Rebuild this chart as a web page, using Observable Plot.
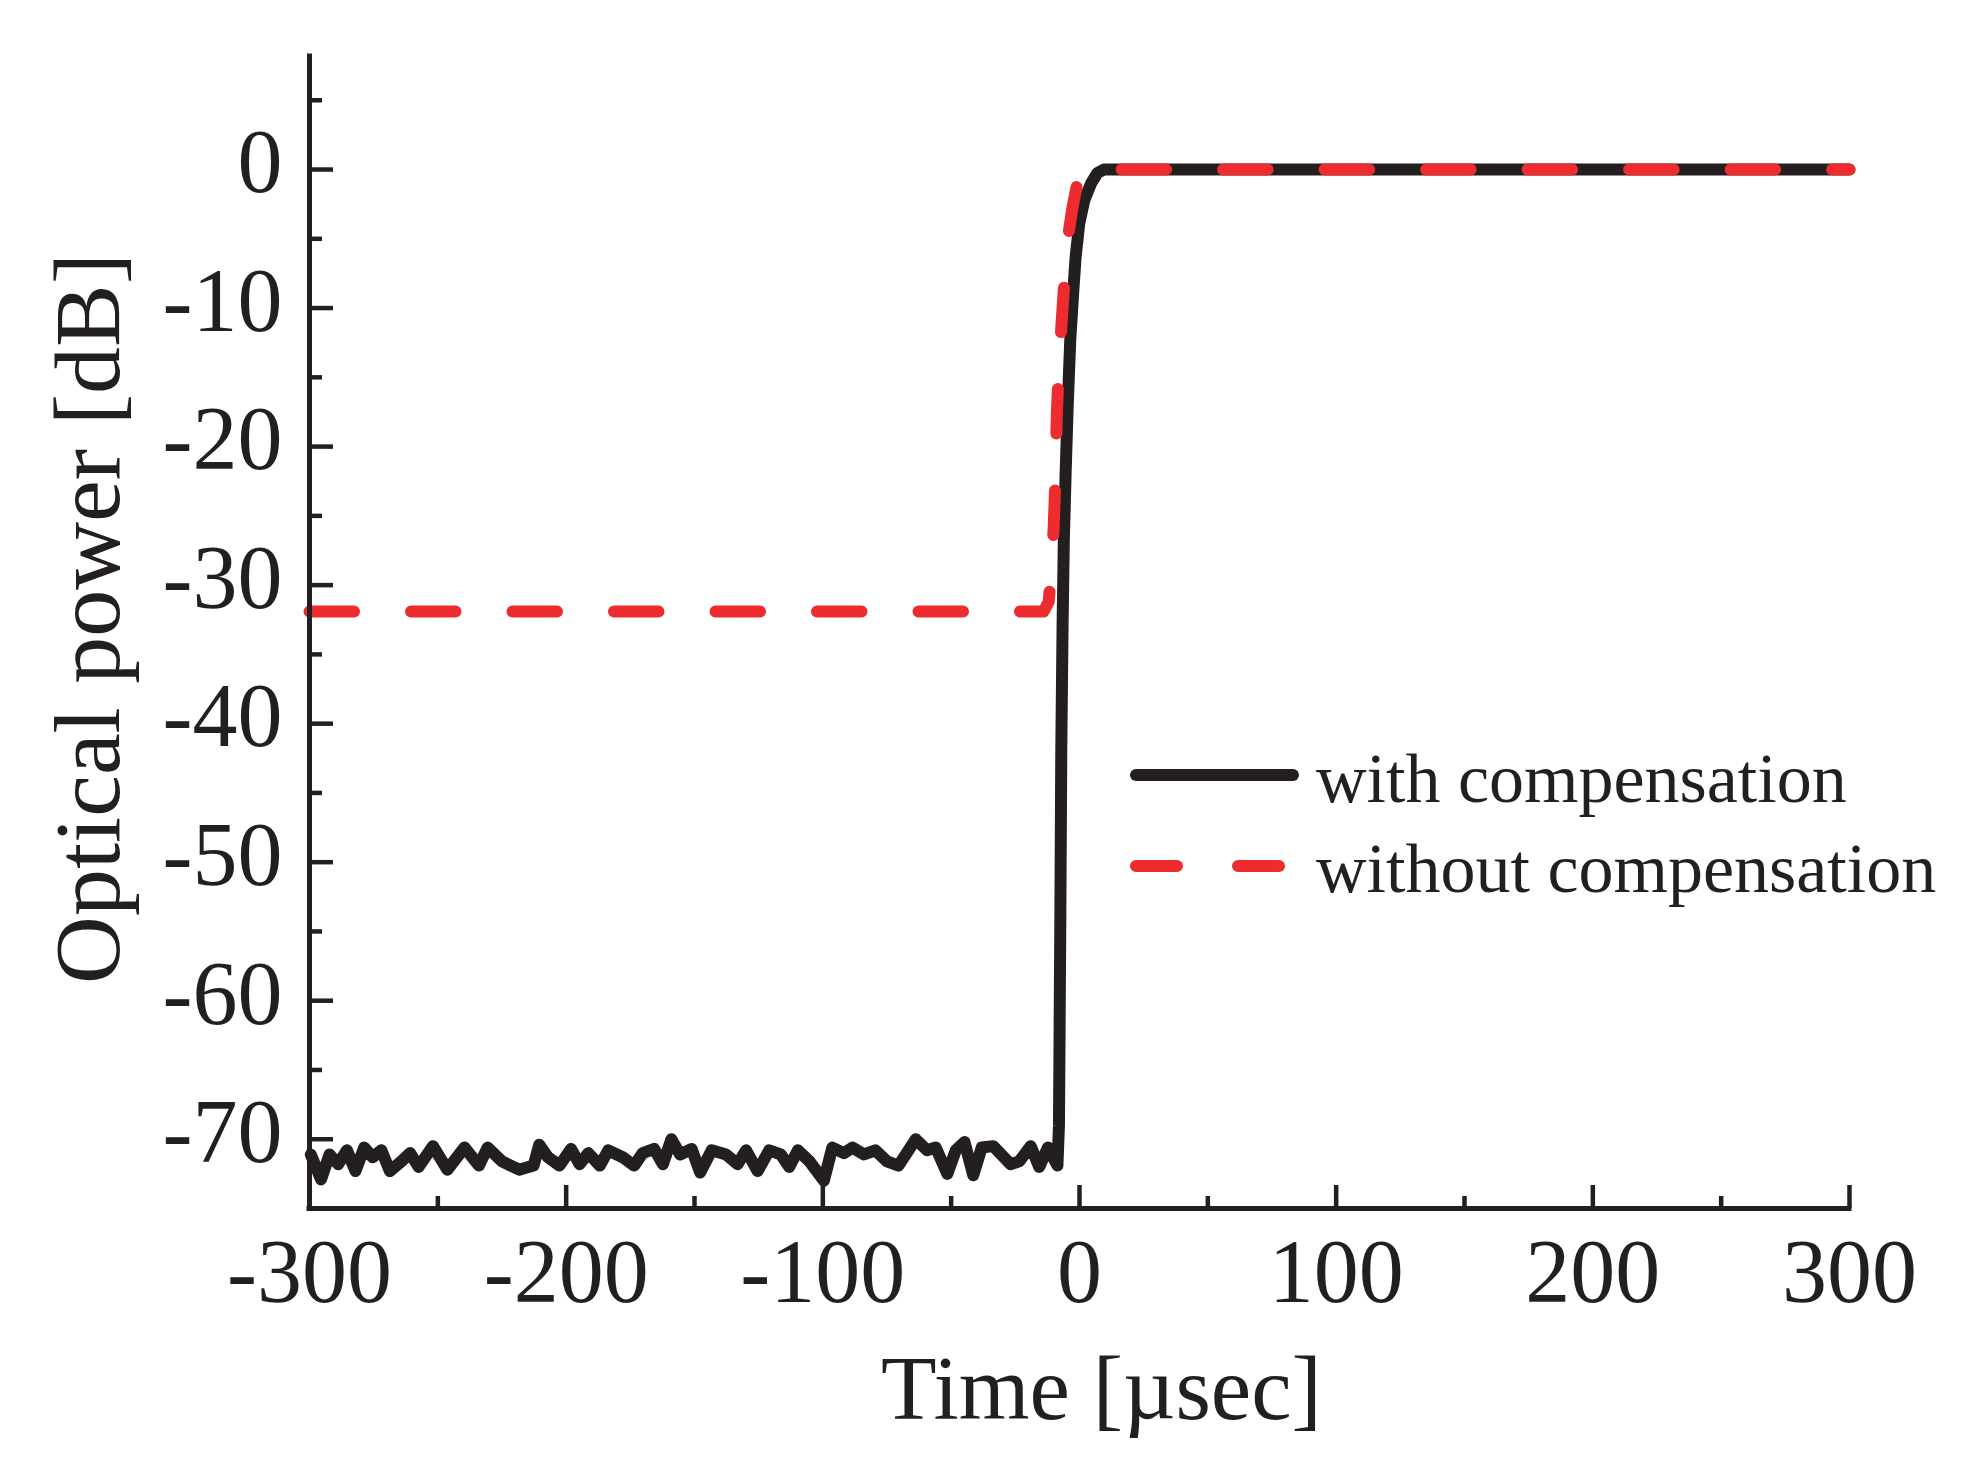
<!DOCTYPE html>
<html>
<head>
<meta charset="utf-8">
<script src="https://cdn.jsdelivr.net/npm/d3@7"></script>
<script src="https://cdn.jsdelivr.net/npm/@observablehq/plot@0.6"></script>
<style>
  html, body { margin: 0; padding: 0; background: #fff; }
  #wrap { position: relative; width: 1968px; height: 1480px; }
  #legend { position: absolute; left: 0; top: 0; pointer-events: none; }
</style>
</head>
<body>
<div id="wrap"></div>
<script>
// ---- data ----
const timeWith = [
  -299.5, -295.5, -292.2, -288.8, -285.4, -282.1, -278.7, -275.4, -272.0, -268.7,
  -264.2, -260.8, -257.5, -251.9, -246.3, -239.6, -234.0, -230.6, -225.0, -218.3,
  -212.7, -210.5, -207.1, -202.6, -198.1, -194.8, -191.4, -186.9, -183.6, -178.0,
  -173.5, -170.2, -165.7, -162.3, -159.0, -155.6, -151.1, -147.8, -143.3, -137.7,
  -133.2, -129.9, -125.4, -120.9, -116.4, -113.1, -109.7, -105.2, -99.6, -96.3,
  -91.8, -88.4, -84.0, -79.5, -75.0, -70.5, -63.8, -59.4, -56.0, -51.5,
  -48.2, -44.8, -41.4, -38.1, -33.6, -26.9, -23.5, -19.0, -15.7, -12.3,
  -8.6,
  -8.0, -7.5, -7.1, -6.6, -6.1, -5.4, -4.6, -3.6, -2.4, -1.5, -0.1, 1.9, 4.5, 7.0, 9.5, 300
];
const powerWith = [
  -71.1, -72.9, -71.1, -71.8, -70.8, -72.3, -70.6, -71.3, -70.8, -72.3,
  -71.6, -71.0, -72.0, -70.5, -72.2, -70.6, -71.9, -70.6, -71.6, -72.2,
  -71.9, -70.4, -71.3, -71.9, -70.7, -71.8, -71.0, -71.9, -70.8, -71.3,
  -71.9, -71.0, -70.7, -71.8, -70.0, -71.1, -70.7, -72.4, -70.8, -71.1,
  -71.8, -70.8, -72.3, -70.8, -71.1, -72.0, -70.8, -71.6, -73.0, -70.6,
  -71.0, -70.6, -71.1, -70.8, -71.6, -71.9, -70.0, -70.8, -70.6, -72.5,
  -70.8, -70.2, -72.6, -70.6, -70.5, -71.8, -71.6, -70.5, -72.0, -70.6,
  -71.9,
  -69, -55, -42, -33, -26.7, -21.9, -17.1, -12.3, -8.7, -6.3, -3.9, -2.2, -1.0, -0.25, 0, 0
];
const timeWithout = [-300, -14.0, -12.0, -11.0, -10.1, -9.5, -8.8, -8.0, -6.6, -5.5, -4.4, -2.8, -1.1, 0.6, 2.0, 300];
const powerWithout = [-31.9, -31.9, -31.2, -29.0, -26.0, -23.0, -17.5, -14.0, -10.0, -7.0, -4.8, -2.8, -1.2, -0.2, 0, 0];

const seriesNames = ["with compensation", "without compensation"];
const yMajor = [-70, -60, -50, -40, -30, -20, -10, 0];
const yMinor = [-65, -55, -45, -35, -25, -15, -5, 5];
const xMajor = [-300, -200, -100, 0, 100, 200, 300];
const xMinor = [-250, -150, -50, 50, 150, 250];
const xTitle = "Time [µsec]";
const yTitle = "Optical power [dB]";

// ---- build ----
const ink = "#231f20";
const red = "#ee2b2e";
const font = "'Liberation Serif', 'Times New Roman', serif";

const withData = timeWith.map((t, i) => ({t, p: powerWith[i]}));
const withoutData = timeWithout.map((t, i) => ({t, p: powerWithout[i]}));

const chart = Plot.plot({
  width: 1968,
  height: 1480,
  marginLeft: 309,
  marginRight: 119,
  marginTop: 56,
  marginBottom: 272,
  x: {domain: [-300, 300]},
  y: {domain: [-75, 8.16]},
  style: {fontFamily: font, color: ink, background: "white"},
  marks: [
    Plot.line(withData, {x: "t", y: "p", stroke: ink, strokeWidth: 12, strokeLinejoin: "round", strokeLinecap: "round"}),
    Plot.line(withoutData, {x: "t", y: "p", stroke: red, strokeWidth: 12, strokeDasharray: "44.5,57", strokeLinejoin: "round", strokeLinecap: "round"}),
    Plot.ruleX([-300], {stroke: ink, strokeWidth: 5, strokeLinecap: "square"}),
    Plot.ruleY([-75], {stroke: ink, strokeWidth: 5, strokeLinecap: "square"}),
    Plot.axisY({ticks: yMajor, tickSize: -24, strokeWidth: 4.5, fill: "none", label: null}),
    Plot.axisY({ticks: yMinor, tickSize: -13, strokeWidth: 4.5, fill: "none", label: null}),
    Plot.axisX({ticks: xMajor, tickSize: -23, strokeWidth: 4.5, fill: "none", label: null}),
    Plot.axisX({ticks: xMinor, tickSize: -12, strokeWidth: 4.5, fill: "none", label: null}),
    Plot.axisY({ticks: yMajor, tickSize: 0, tickPadding: 27, fontSize: 90, dy: -6, tickFormat: d => String(d), label: null}),
    Plot.axisX({ticks: xMajor, tickSize: 0, tickPadding: 30, fontSize: 90, tickFormat: d => String(d), label: null}),
    Plot.text([xTitle], {text: d => d, frameAnchor: "bottom", lineAnchor: "bottom", textAnchor: "middle", dx: 22, dy: 210, fontSize: 91, fill: ink}),
    Plot.text([yTitle], {text: d => d, frameAnchor: "left", lineAnchor: "bottom", textAnchor: "middle", rotate: -90, dx: -191, dy: -14, fontSize: 94, fill: ink})
  ]
});
document.getElementById("wrap").appendChild(chart);

// ---- legend (overlay) ----
const lg = d3.select("#wrap").append("svg")
  .attr("id", "legend")
  .attr("width", 1968)
  .attr("height", 1480);
const rows = [
  {name: seriesNames[0], color: ink, dash: null, x2: 1293, ly: 775, ty: 802},
  {name: seriesNames[1], color: red, dash: "41,61", x2: 1279, ly: 866, ty: 892}
];
rows.forEach(r => {
  lg.append("line")
    .attr("x1", 1136).attr("x2", r.x2).attr("y1", r.ly).attr("y2", r.ly)
    .attr("stroke", r.color).attr("stroke-width", 12)
    .attr("stroke-linecap", "round")
    .attr("stroke-dasharray", r.dash);
  lg.append("text")
    .attr("x", 1316).attr("y", r.ty)
    .attr("font-family", font).attr("font-size", 70)
    .attr("fill", ink)
    .text(r.name);
});
</script>
</body>
</html>
